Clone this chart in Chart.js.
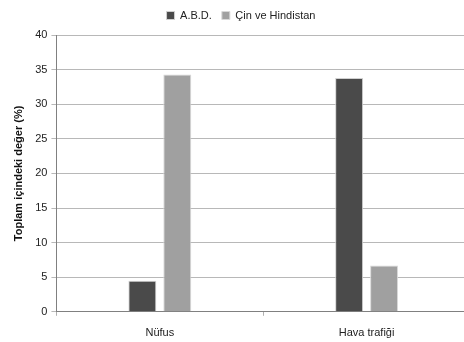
<!DOCTYPE html>
<html>
<head>
<meta charset="utf-8">
<script src="https://cdn.jsdelivr.net/npm/chart.js@4"></script>
<style>
  html, body { margin: 0; padding: 0; background: #fff; overflow: hidden; }
  #wrap { width: 464px; height: 342px; overflow: hidden; }
  canvas { display: block; }
</style>
</head>
<body>
<div id="wrap"><canvas id="c" width="470" height="351"></canvas></div>
<script>
// Categories and series values (percent of total)
const categories = ['Nüfus', 'Hava trafiği'];
const abdValues = [4.5, 33.8];
const cinHindistanValues = [34.3, 6.7];
const seriesNames = ['A.B.D.', 'Çin ve Hindistan'];
const yTicks = [0, 5, 10, 15, 20, 25, 30, 35, 40];

const fontFamily = '"Liberation Sans", "Open Sans", sans-serif';

// Adds extra room between the legend row and the plot area
const legendGap = {
  id: 'legendGap',
  beforeInit(chart) {
    const origFit = chart.legend.fit;
    chart.legend.fit = function () {
      origFit.call(this);
      this.height += 4;
    };
  }
};

new Chart(document.getElementById('c'), {
  type: 'bar',
  data: {
    labels: categories,
    datasets: [
      {
        label: seriesNames[0],
        data: abdValues,
        backgroundColor: '#4a4a4a',
        borderColor: '#d0d0d0',
        borderWidth: 1,
        categoryPercentage: 0.338,
        barPercentage: 0.8
      },
      {
        label: seriesNames[1],
        data: cinHindistanValues,
        backgroundColor: '#a0a0a0',
        borderColor: '#d8d8d8',
        borderWidth: 1,
        categoryPercentage: 0.338,
        barPercentage: 0.8
      }
    ]
  },
  plugins: [legendGap],
  options: {
    responsive: false,
    animation: false,
    devicePixelRatio: 1,
    layout: { padding: { top: 0, left: 12, right: 0, bottom: 0 } },
    plugins: {
      tooltip: { enabled: false },
      legend: {
        position: 'top',
        labels: {
          boxWidth: 8,
          boxHeight: 8,
          padding: 10,
          color: '#222',
          font: { family: fontFamily, size: 11 }
        }
      }
    },
    scales: {
      x: {
        offset: true,
        grid: {
          display: true,
          drawOnChartArea: false,
          drawTicks: true,
          tickLength: 4,
          color: '#b0b0b0',
          offset: true
        },
        border: { display: true, color: '#808080', width: 1 },
        ticks: {
          color: '#222',
          padding: 11,
          font: { family: fontFamily, size: 11 }
        }
      },
      y: {
        min: 0,
        max: 40,
        afterBuildTicks: (axis) => { axis.ticks = yTicks.map(v => ({ value: v })); },
        grid: {
          color: '#b8b8b8',
          lineWidth: 1,
          tickLength: 5
        },
        border: { display: true, color: '#808080', width: 1 },
        ticks: {
          color: '#222',
          padding: 4,
          font: { family: fontFamily, size: 11 }
        },
        title: {
          display: true,
          text: 'Toplam içindeki değer (%)',
          color: '#111',
          padding: { top: 0, bottom: 6 },
          font: { family: fontFamily, size: 11, weight: 'bold' }
        }
      }
    }
  }
});
</script>
</body>
</html>
